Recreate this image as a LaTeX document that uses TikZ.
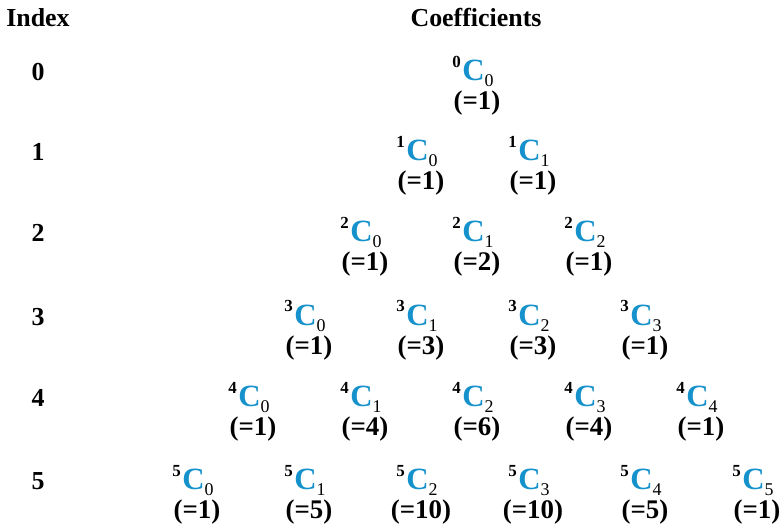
\documentclass[tikz,border=0pt]{standalone}
\usepackage{fontspec}
\setmainfont{Liberation Serif}
\usetikzlibrary{positioning}
\definecolor{coefblue}{HTML}{1591CB}
\newcommand{\binomcoef}[2]{\raisebox{13bp}{\fontsize{17}{17}\selectfont\bfseries #1}\kern1.5bp%
  {\color{coefblue}\fontsize{31}{31}\selectfont\bfseries C}%
  \raisebox{-6bp}{\fontsize{18}{18}\selectfont\mdseries #2}}

\begin{document}
\begin{tikzpicture}[x=1bp, y=-1bp,
    head/.style={inner sep=0pt, anchor=base, font=\fontsize{26}{28}\selectfont\bfseries},
    idx/.style={inner sep=0pt, anchor=base, font=\fontsize{26}{28}\selectfont\bfseries},
    coef/.style={inner sep=0pt, anchor=base},
    val/.style={inner sep=0pt, anchor=base, font=\fontsize{27}{28}\selectfont\bfseries},
  ]
  \useasboundingbox (0,0) rectangle (784,529);

  % Column headings
  \node[head] (idxhead) at (38,27) {Index};
  \node[head] (coefhead) at (476,27) {Coefficients};

  % One row of the triangle per index
  \foreach \n/\y in {0/72,1/152,2/233,3/316,4/397,5/480} {
    \node[idx] (idx-\n) at (38,\y+9) {\n};
    \foreach \k in {0,...,\n} {
      \pgfmathsetmacro\xpos{477+(\k-\n/2)*112}
      \pgfmathtruncatemacro\val{factorial(\n)/(factorial(\k)*factorial(\n-\k))}
      \node[coef] (coef-\n-\k) at (\xpos-4,\y+9) {\binomcoef{\n}{\k}};
      \node[val] (val-\n-\k) at (\xpos,\y+38) {(=\val)};
    }
  }

\end{tikzpicture}
\end{document}
